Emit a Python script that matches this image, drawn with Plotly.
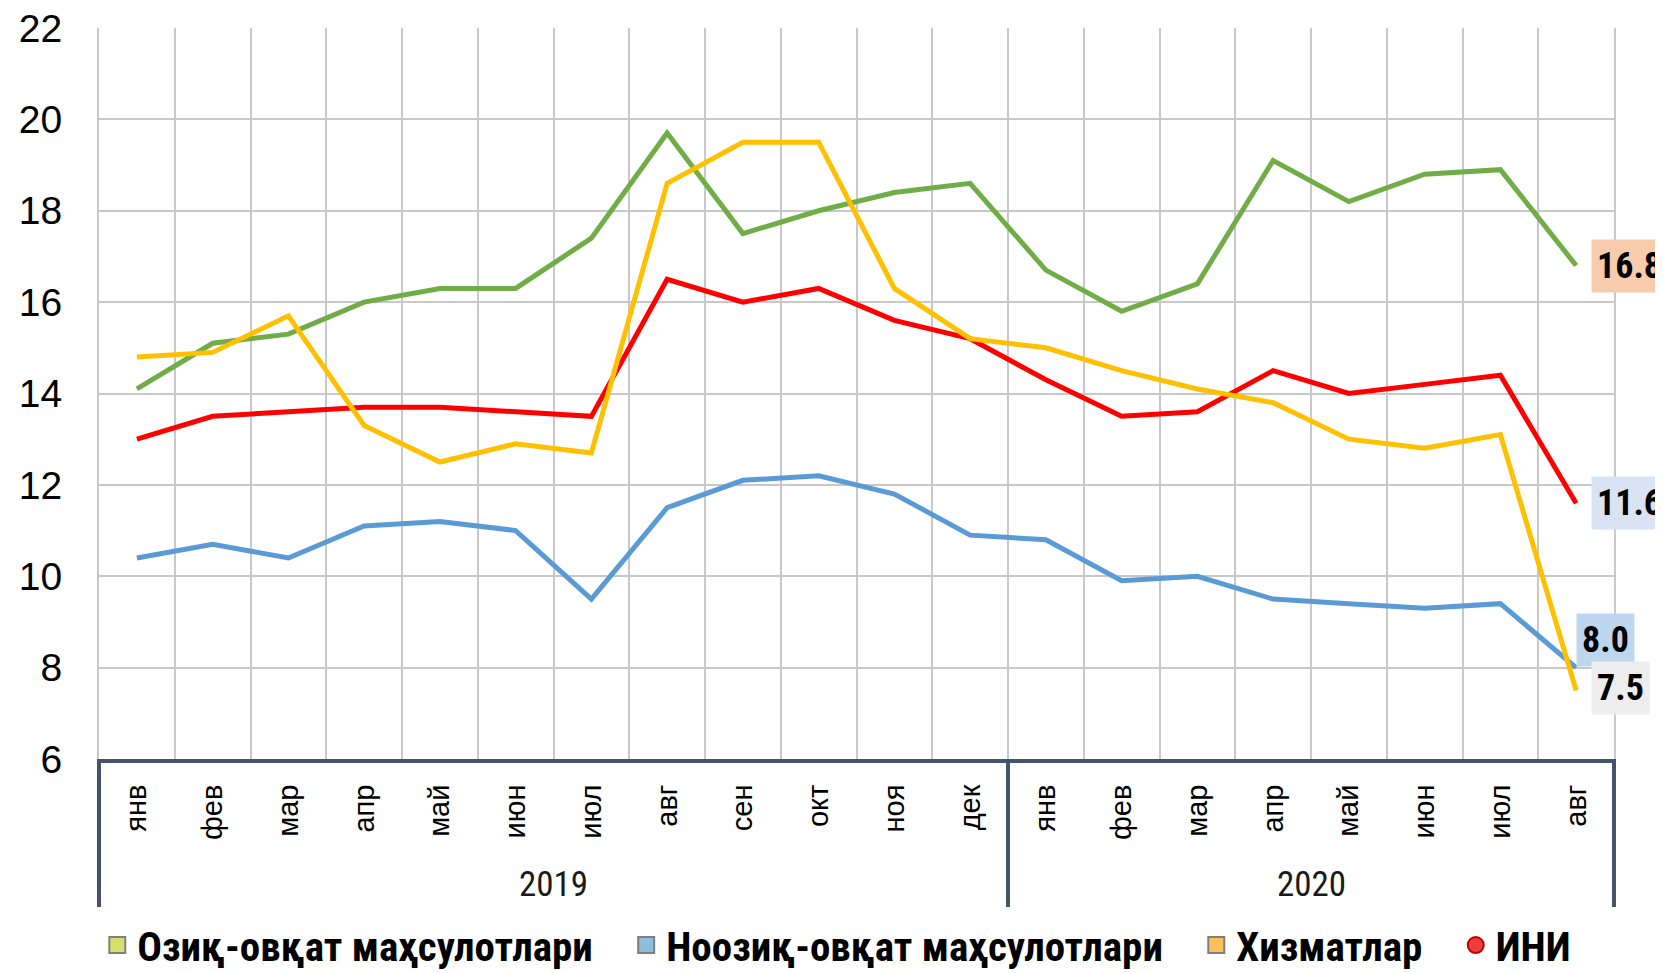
import plotly.graph_objects as go

# ==================== данные ====================
months = ["янв", "фев", "мар", "апр", "май", "июн", "июл", "авг", "сен", "окт", "ноя", "дек",
          "янв", "фев", "мар", "апр", "май", "июн", "июл", "авг"]
years = ["2019", "2020"]
year_len = [12, 8]

food = [14.1, 15.1, 15.3, 16.0, 16.3, 16.3, 17.4, 19.7, 17.5, 18.0, 18.4, 18.6,
        16.7, 15.8, 16.4, 19.1, 18.2, 18.8, 18.9, 16.8]
nonfood = [10.4, 10.7, 10.4, 11.1, 11.2, 11.0, 9.5, 11.5, 12.1, 12.2, 11.8, 10.9,
           10.8, 9.9, 10.0, 9.5, 9.4, 9.3, 9.4, 8.0]
services = [14.8, 14.9, 15.7, 13.3, 12.5, 12.9, 12.7, 18.6, 19.5, 19.5, 16.3, 15.2,
            15.0, 14.5, 14.1, 13.8, 13.0, 12.8, 13.1, 7.5]
cpi = [13.0, 13.5, 13.6, 13.7, 13.7, 13.6, 13.5, 16.5, 16.0, 16.3, 15.6, 15.2,
       14.3, 13.5, 13.6, 14.5, 14.0, 14.2, 14.4, 11.6]

names = ["Озиқ-овқат маҳсулотлари", "Ноозиқ-овқат маҳсулотлари", "Хизматлар", "ИНИ"]

# ==================== стиль ====================
LINE_COLORS = {"food": "#70AD47", "nonfood": "#5B9BD5", "services": "#FFC000", "cpi": "#FF0000"}
LEGEND_FILL = ["#D5E06B", "#8EBEDD", "#FFC05C", "#F03C3C"]
LEGEND_EDGE = ["#7F7F7F", "#7F7F7F", "#7F7F7F", "#C00000"]
LABEL_BG = {"food": "#F8CBAD", "nonfood": "#BDD7EE", "services": "#EDEDED", "cpi": "#DAE3F3"}
NARROW = "Liberation Sans Narrow, Arial Narrow, Roboto Condensed, sans-serif"
REGULAR = "Liberation Sans, Arial, sans-serif"
GRID = "#C8C8C8"
FRAME = "#44546A"

x = list(range(len(months)))
fig = go.Figure()

series = [("food", food), ("nonfood", nonfood), ("cpi", cpi), ("services", services)]
for key, vals in series:
    fig.add_trace(go.Scatter(
        x=x, y=vals, mode="lines", showlegend=False,
        line=dict(color=LINE_COLORS[key], width=5),
    ))

# легенда — отдельные маркеры, как в исходнике (пробелы дают промежуток между пунктами)
for i, nm in enumerate(names):
    pad = "" if i == len(names) - 1 else "\u00a0\u00a0\u00a0"
    fig.add_trace(go.Scatter(
        x=[None], y=[None], mode="markers", name=nm + pad,
        marker=dict(symbol="circle" if i == 3 else "square", size=16,
                    color=LEGEND_FILL[i], line=dict(color=LEGEND_EDGE[i], width=2)),
    ))

# подписи последних значений
last = x[-1]
label_spec = [("food", food, 15, 0), ("cpi", cpi, 15, 0),
              ("nonfood", nonfood, 0, 28), ("services", services, 15, 2)]
for key, vals, dx, dy in label_spec:
    fig.add_annotation(
        x=last, y=vals[-1], xref="x", yref="y", text=f"<b>{vals[-1]:.1f}</b>",
        showarrow=False, xanchor="left", yanchor="middle", xshift=dx, yshift=dy,
        font=dict(family=NARROW, size=36, color="#000000"),
        bgcolor=LABEL_BG[key], borderpad=5,
    )

# годы под месяцами
start = 0
for yr, n in zip(years, year_len):
    fig.add_annotation(
        x=start + (n - 1) / 2, y=-0.171, xref="x", yref="paper", text=yr,
        showarrow=False, xanchor="center", yanchor="middle",
        font=dict(family=NARROW, size=35, color="#1A1A1A"),
    )
    start += n

# рамка групп по оси X
frame_lines = [dict(xref="paper", x=0), dict(xref="x", x=year_len[0] - 0.5), dict(xref="paper", x=1)]
for fl in frame_lines:
    fig.add_shape(type="line", xref=fl["xref"], yref="paper", x0=fl["x"], x1=fl["x"],
                  y0=0, y1=-0.2025, line=dict(color=FRAME, width=4))

# страница html имеет отступ 8px, поэтому фигура чуть меньше окна
fig.update_layout(
    width=1655, height=965,
    margin=dict(l=91, r=49, t=20, b=214, autoexpand=False),
    plot_bgcolor="#FFFFFF", paper_bgcolor="#FFFFFF",
    font=dict(family=REGULAR, color="#000000"),
    legend=dict(
        orientation="h", xref="paper", x=0.487, xanchor="center",
        yref="paper", y=-0.255, yanchor="middle",
        font=dict(family=NARROW, size=41, color="#000000", weight="bold"),
        itemwidth=30, bgcolor="rgba(0,0,0,0)",
    ),
)
fig.update_xaxes(
    range=[-0.5, len(months) - 0.5],
    tickvals=x, ticktext=months, tickangle=-90,
    tickfont=dict(family=REGULAR, size=29, color="#000000"),
    ticks="", ticklabelstandoff=10,
    showgrid=False, zeroline=False,
    showline=True, linecolor=FRAME, linewidth=4,
    minor=dict(tick0=-0.5, dtick=1, showgrid=True, gridcolor=GRID, gridwidth=2),
)
fig.update_yaxes(
    range=[6, 22], dtick=2,
    tickfont=dict(family=REGULAR, size=39, color="#000000"),
    ticks="", ticklabelstandoff=27, ticklabeloverflow="allow",
    showgrid=True, gridcolor=GRID, gridwidth=2, zeroline=False,
    showline=True, mirror=True, linecolor=GRID, linewidth=2,
)

fig.write_html("out.html")
